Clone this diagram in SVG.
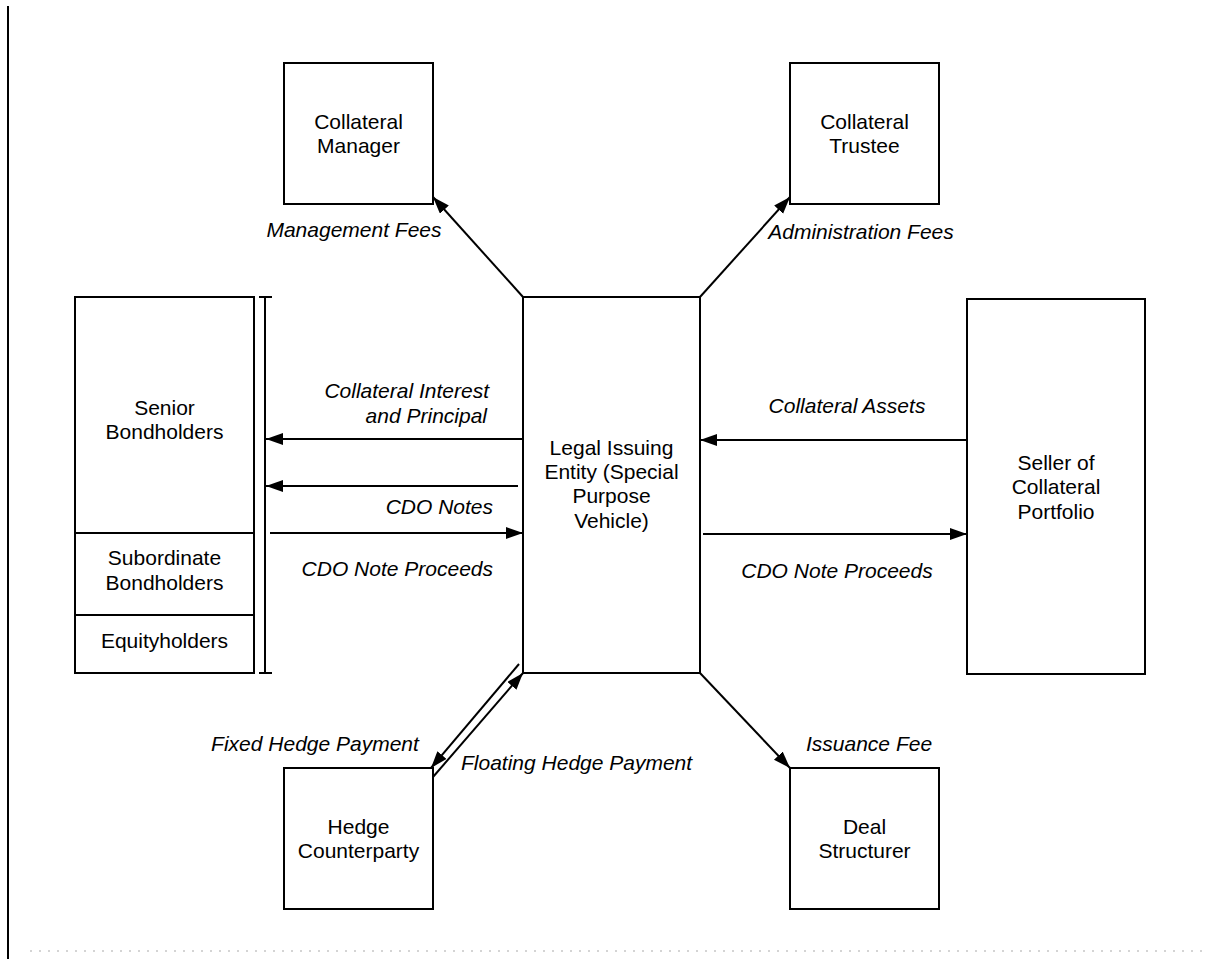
<svg xmlns="http://www.w3.org/2000/svg" width="1213" height="959" viewBox="0 0 1213 959">
<style>
.box{fill:#fff;stroke:#000;stroke-width:2}
.t{font-family:"Liberation Sans",Arial,Helvetica,sans-serif;font-size:21px;fill:#000;text-anchor:middle}
.lab{font-family:"Liberation Sans",Arial,Helvetica,sans-serif;font-size:21px;font-style:italic;fill:#000}
.c{stroke:#000;stroke-width:2;fill:none}
</style>
<defs>
<marker id="ah" markerUnits="userSpaceOnUse" markerWidth="18" markerHeight="14" refX="17" refY="6" orient="auto">
<path d="M0,0 L17,6 L0,12 z" fill="#000"/>
</marker>
</defs>
<rect width="1213" height="959" fill="#fff"/>
<g id="frame">
<line x1="8" y1="6" x2="8" y2="959" stroke="#000" stroke-width="2"/>
<line x1="30" y1="951" x2="1205" y2="951" stroke="#aaa" stroke-width="1.2" stroke-dasharray="2 7"/>
</g>
<g id="collateral-manager">
<rect class="box" x="284" y="63" width="149" height="141"/>
<text class="t" x="358.5" y="129">Collateral</text>
<text class="t" x="358.5" y="153">Manager</text>
</g>
<g id="collateral-trustee">
<rect class="box" x="790" y="63" width="149" height="141"/>
<text class="t" x="864.5" y="129">Collateral</text>
<text class="t" x="864.5" y="153">Trustee</text>
</g>
<g id="bondholders">
<rect class="box" x="75" y="297" width="179" height="376"/>
<line class="c" x1="75" y1="533" x2="254" y2="533"/>
<line class="c" x1="75" y1="615" x2="254" y2="615"/>
<text class="t" x="164.5" y="415">Senior</text>
<text class="t" x="164.5" y="439">Bondholders</text>
<text class="t" x="164.5" y="565">Subordinate</text>
<text class="t" x="164.5" y="590">Bondholders</text>
<text class="t" x="164.5" y="648">Equityholders</text>
</g>
<g id="bracket">
<line class="c" x1="265" y1="297" x2="265" y2="673"/>
<line class="c" x1="259" y1="297" x2="272" y2="297"/>
<line class="c" x1="259" y1="673" x2="272" y2="673"/>
</g>
<g id="spv">
<rect class="box" x="523" y="297" width="177" height="376"/>
<text class="t" x="611.5" y="455">Legal Issuing</text>
<text class="t" x="611.5" y="479">Entity (Special</text>
<text class="t" x="611.5" y="503">Purpose</text>
<text class="t" x="611.5" y="528">Vehicle)</text>
</g>
<g id="seller">
<rect class="box" x="967" y="299" width="178" height="375"/>
<text class="t" x="1056" y="470">Seller of</text>
<text class="t" x="1056" y="494">Collateral</text>
<text class="t" x="1056" y="519">Portfolio</text>
</g>
<g id="hedge-counterparty">
<rect class="box" x="284" y="768" width="149" height="141"/>
<text class="t" x="358.5" y="834">Hedge</text>
<text class="t" x="358.5" y="858">Counterparty</text>
</g>
<g id="deal-structurer">
<rect class="box" x="790" y="768" width="149" height="141"/>
<text class="t" x="864.5" y="834">Deal</text>
<text class="t" x="864.5" y="858">Structurer</text>
</g>
<g id="connectors">
<line class="c" x1="523" y1="297" x2="433" y2="197" marker-end="url(#ah)"/>
<line class="c" x1="700" y1="297" x2="790" y2="197" marker-end="url(#ah)"/>
<line class="c" x1="523" y1="439" x2="266" y2="439" marker-end="url(#ah)"/>
<line class="c" x1="518" y1="486" x2="266" y2="486" marker-end="url(#ah)"/>
<line class="c" x1="270" y1="533" x2="523" y2="533" marker-end="url(#ah)"/>
<line class="c" x1="967" y1="440" x2="700" y2="440" marker-end="url(#ah)"/>
<line class="c" x1="703" y1="534" x2="967" y2="534" marker-end="url(#ah)"/>
<line class="c" x1="519" y1="664" x2="431" y2="768" marker-end="url(#ah)"/>
<line class="c" x1="433" y1="777" x2="523" y2="673" marker-end="url(#ah)"/>
<line class="c" x1="700" y1="673" x2="790" y2="768" marker-end="url(#ah)"/>
</g>
<g id="labels">
<text class="lab" x="354" y="237" text-anchor="middle">Management Fees</text>
<text class="lab" x="861" y="239" text-anchor="middle">Administration Fees</text>
<text class="lab" x="489" y="398" text-anchor="end">Collateral Interest</text>
<text class="lab" x="487" y="423" text-anchor="end">and Principal</text>
<text class="lab" x="493" y="514" text-anchor="end">CDO Notes</text>
<text class="lab" x="493" y="576" text-anchor="end">CDO Note Proceeds</text>
<text class="lab" x="847" y="413" text-anchor="middle">Collateral Assets</text>
<text class="lab" x="837" y="578" text-anchor="middle">CDO Note Proceeds</text>
<text class="lab" x="315" y="751" text-anchor="middle">Fixed Hedge Payment</text>
<text class="lab" x="461" y="770">Floating Hedge Payment</text>
<text class="lab" x="806" y="751">Issuance Fee</text>
</g>
</svg>
